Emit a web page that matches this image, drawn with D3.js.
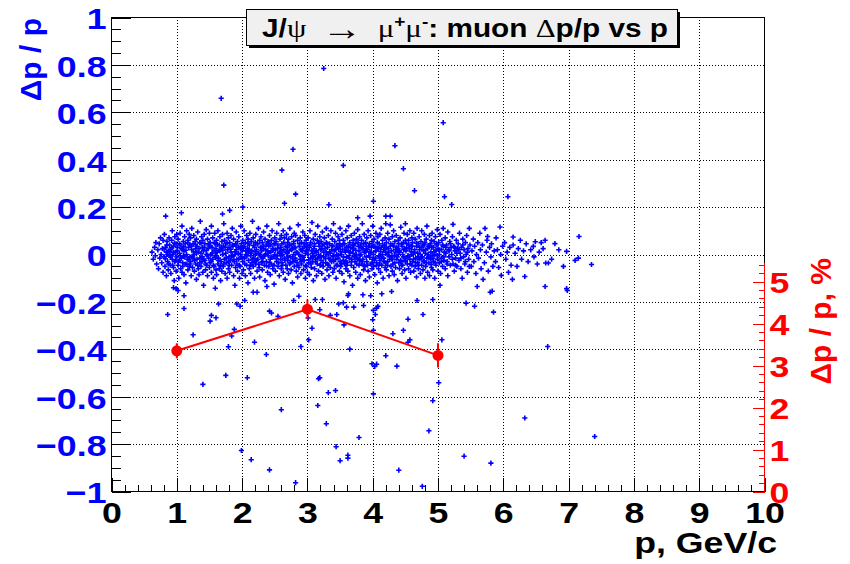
<!DOCTYPE html>
<html><head><meta charset="utf-8">
<script src="https://cdn.jsdelivr.net/npm/d3@7"></script>
<style>
body{margin:0;background:#fff}
svg{display:block}
text{font-family:"Liberation Sans",Arial,sans-serif;font-weight:bold}
</style>
</head><body>
<svg id="c" width="850" height="564"></svg>
<script>
// ---------------- data ----------------
const xTickValues = [0,1,2,3,4,5,6,7,8,9,10];
const yTickValues = [-1,-0.8,-0.6,-0.4,-0.2,0,0.2,0.4,0.6,0.8,1];
const rTickValues = [0,1,2,3,4,5];
const rAxisMax = 5.45;
const titleParts = [["J/","b"],["ψ","g"],["  ","g"],["→","arrow"],["  ","g"],["μ","g"],["+","sup"],["μ","g"],["-","sup"],[": muon ","b"],["Δ","g"],["p/p vs p","b"]];
const xTitle = "p, GeV/c";
const yTitle = "Δp / p";
const rTitle = "Δp / p, %";

// resolution graph (right axis, %)
const resP   = [1, 3, 5];
const resVal = [3.35, 4.34, 3.24];
const resErr = [0.18, 0.23, 0.29];

// scatter outliers [p, dp/p]
const outliers = [
[3.25,0.785],[1.68,0.659],[2.78,0.444],[4.34,0.459],[2.61,0.356],[3.55,0.376],[4.47,0.362],[1.72,0.293],[2.82,0.255],[4.64,0.269],
[2.65,0.216],[3.33,0.21],[4.01,0.225],[2.01,0.2],[1.07,0.176],[0.83,0.162],[1.70,0.171],[1.81,0.186],[3.77,0.155],[3.96,0.162],
[4.20,0.162],[4.27,0.162],[5.08,0.556],[5.10,0.244],[5.21,0.211],[6.07,0.244],[4.20,0.13],[4.50,0.13],
[1.02,-0.152],[1.11,-0.174],[1.11,-0.228],[0.86,-0.253],[1.53,-0.257],[1.51,-0.281],[1.60,-0.267],[1.25,-0.339],[1.64,-0.209],[1.92,-0.209],
[1.97,-0.218],[2.04,-0.194],[1.88,-0.316],[1.84,-0.344],[1.79,-0.389],[1.75,-0.51],[1.40,-0.548],[2.19,-0.37],[2.37,-0.422],[2.08,-0.52],
[2.60,-0.655],[2.17,-0.159],[2.23,-0.159],[2.42,-0.239],[2.45,-0.247],[2.55,-0.261],[2.79,-0.194],[2.87,-0.176],[3.01,-0.268],[3.07,-0.311],
[3.02,-0.36],[2.90,-0.388],[3.12,-0.19],[3.23,-0.19],[3.19,-0.233],[3.35,-0.257],[3.45,-0.253],[3.48,-0.209],[3.55,-0.204],[3.60,-0.222],
[3.56,-0.297],[3.62,-0.173],[3.63,-0.166],[3.71,-0.222],[3.85,-0.17],[3.86,-0.215],[3.97,-0.174],[3.65,-0.399],[3.17,-0.524],[3.19,-0.52],
[3.32,-0.583],[3.43,-0.574],[3.16,-0.637],[3.29,-0.714],[3.79,-0.772],[3.44,-0.811],[3.62,-0.847],[3.62,-0.859],[3.50,-0.87],[1.99,-0.827],
[2.14,-0.866],[2.42,-0.909],[2.82,-0.963],[4.01,-0.236],[4.06,-0.226],[4.08,-0.219],[4.04,-0.253],[4.00,-0.275],[4.01,-0.32],[4.14,-0.166],
[4.29,-0.156],[4.31,-0.334],[4.47,-0.32],[4.54,-0.273],[4.54,-0.37],[4.57,-0.36],[4.20,-0.427],[3.99,-0.461],[4.06,-0.463],[4.03,-0.472],
[4.37,-0.471],[4.01,-0.588],[4.40,-0.91],[4.76,-0.978],[4.68,-0.194],[4.77,-0.253],[4.92,-0.19],[5.01,-0.541],[4.92,-0.617],[4.86,-0.744],
[5.80,-0.159],[5.83,-0.155],[5.43,-0.205],[5.56,-0.218],[5.85,-0.243],[5.06,-0.36],[6.68,-0.388],[6.33,-0.69],[7.40,-0.768],[5.40,-0.851],
[5.81,-0.88],[6.98,-0.152],[0.95,-0.14],[0.99,-0.144],[1.59,-0.142],[2.38,-0.135],[5.03,-0.13]
];

// scatter band [p, dp/p]
const band = [
[0.62,0.01],[0.64,-0.02],[0.66,0.03],[0.67,-0.005],[0.68,0.05],[0.69,-0.04],
[0.71,0.02],[0.72,-0.06],[0.73,0.045],[0.74,-0.015],[0.75,0.07],[0.76,0.0],[0.77,-0.035],[0.78,0.025],[0.79,-0.075],[0.79,0.06],
[0.81,-0.01],[0.81,0.085],[0.82,-0.05],[0.83,0.03],[0.84,-0.09],[0.84,0.01],[0.85,0.055],[0.86,-0.03],[0.87,0.015],[0.87,-0.065],[0.88,0.07],[0.89,-0.005],[0.89,0.04],[0.9,-0.045],
[0.91,0.02],[0.91,-0.08],[0.92,0.06],[0.93,-0.02],[0.93,0.1],[0.94,0.0],[0.95,-0.055],[0.95,0.035],[0.96,-0.11],[0.97,0.075],[0.97,-0.03],[0.98,0.01],[0.99,-0.07],[0.99,0.045],[1.0,-0.01],[1.0,0.085],
[1.01,0.03],[1.02,-0.045],[1.02,0.065],[1.03,-0.1],[1.04,0.005],[1.04,-0.025],[1.05,0.09],[1.06,-0.06],[1.06,0.04],[1.07,-0.015],[1.08,0.12],[1.08,-0.075],[1.09,0.02],[1.09,-0.035],[1.1,0.055],[1.1,-0.005],
[1.11,-0.085],[1.11,0.015],[1.12,0.075],[1.13,-0.04],[1.13,0.045],[1.14,-0.12],[1.15,0.0],[1.15,0.1],[1.16,-0.02],[1.17,0.06],[1.17,-0.065],[1.18,0.03],[1.19,-0.05],[1.19,0.085],[1.2,-0.01],[1.2,0.04],
[1.21,0.07],[1.21,-0.03],[1.22,-0.09],[1.23,0.02],[1.23,0.11],[1.24,-0.055],[1.25,0.045],[1.25,-0.015],[1.26,0.08],[1.27,-0.07],[1.27,0.0],[1.28,0.055],[1.29,-0.04],[1.29,0.025],[1.3,-0.105],[1.3,0.065],
[1.31,-0.02],[1.31,0.035],[1.32,0.095],[1.33,-0.06],[1.33,0.01],[1.34,-0.085],[1.35,0.05],[1.35,-0.035],[1.36,0.14],[1.37,0.005],[1.37,-0.05],[1.38,0.075],[1.39,-0.01],[1.39,0.03],[1.4,-0.075],[1.4,0.06],
[1.41,0.015],[1.41,-0.13],[1.42,0.085],[1.43,-0.025],[1.43,0.045],[1.44,-0.065],[1.45,0.0],[1.45,0.105],[1.46,-0.045],[1.47,0.065],[1.47,-0.09],[1.48,0.025],[1.49,-0.015],[1.49,0.04],[1.5,-0.055],[1.5,0.09],
[1.51,-0.035],[1.51,0.05],[1.52,0.0],[1.53,0.12],[1.53,-0.075],[1.54,0.03],[1.55,-0.02],[1.55,0.07],[1.56,-0.1],[1.57,0.015],[1.57,-0.05],[1.58,0.09],[1.59,-0.005],[1.59,0.045],[1.6,-0.065],[1.6,0.025],
[1.61,0.06],[1.61,-0.085],[1.62,0.01],[1.63,-0.04],[1.63,0.1],[1.64,-0.015],[1.65,0.04],[1.65,-0.06],[1.66,0.075],[1.67,-0.11],[1.67,0.02],[1.68,-0.03],[1.69,0.055],[1.69,-0.07],[1.7,0.0],[1.7,0.085],
[1.71,-0.05],[1.71,0.035],[1.72,0.13],[1.73,-0.02],[1.73,0.06],[1.74,-0.08],[1.75,0.005],[1.75,0.045],[1.76,-0.035],[1.77,0.09],[1.77,-0.1],[1.78,0.02],[1.79,-0.06],[1.79,0.07],[1.8,-0.01],[1.8,0.03],
[1.81,0.05],[1.81,-0.075],[1.82,-0.025],[1.83,0.08],[1.83,0.01],[1.84,-0.045],[1.85,0.11],[1.85,-0.005],[1.86,0.035],[1.87,-0.09],[1.87,0.065],[1.88,-0.03],[1.89,0.0],[1.89,-0.13],[1.9,0.045],[1.9,-0.055],
[1.91,0.02],[1.91,0.095],[1.92,-0.04],[1.93,0.055],[1.93,-0.07],[1.94,0.005],[1.95,-0.02],[1.95,0.075],[1.96,-0.1],[1.97,0.03],[1.97,-0.05],[1.98,0.12],[1.99,-0.01],[1.99,0.045],[2.0,-0.08],[2.0,0.015],
[2.01,0.06],[2.01,-0.03],[2.02,-0.065],[2.03,0.035],[2.03,0.1],[2.04,-0.015],[2.05,0.05],[2.05,-0.09],[2.06,0.0],[2.07,0.08],[2.07,-0.045],[2.08,0.025],[2.09,-0.12],[2.09,0.065],[2.1,-0.025],[2.1,0.01],
[2.11,-0.06],[2.11,0.04],[2.12,0.09],[2.13,-0.005],[2.13,-0.08],[2.14,0.055],[2.15,0.015],[2.15,-0.035],[2.16,0.14],[2.17,-0.05],[2.17,0.07],[2.18,-0.015],[2.19,0.03],[2.19,-0.1],[2.2,0.05],[2.2,0.0],
[2.21,-0.04],[2.21,0.085],[2.22,0.02],[2.23,-0.07],[2.23,0.045],[2.24,-0.02],[2.25,0.11],[2.25,0.005],[2.26,-0.055],[2.27,0.06],[2.27,-0.095],[2.28,0.03],[2.29,-0.01],[2.29,0.075],[2.3,-0.035],[2.3,0.015],
[2.31,0.05],[2.31,-0.065],[2.32,-0.015],[2.33,0.095],[2.33,0.025],[2.34,-0.045],[2.35,0.065],[2.35,-0.11],[2.36,0.0],[2.37,0.04],[2.37,-0.03],[2.38,0.12],[2.39,-0.075],[2.39,0.015],[2.4,0.055],[2.4,-0.005],
[2.41,-0.05],[2.41,0.035],[2.42,0.08],[2.43,-0.02],[2.43,-0.085],[2.44,0.01],[2.45,0.06],[2.45,-0.04],[2.46,0.1],[2.47,-0.06],[2.47,0.025],[2.48,-0.01],[2.49,0.045],[2.49,-0.125],[2.5,0.07],[2.5,0.0],
[2.51,0.02],[2.51,-0.07],[2.52,0.055],[2.53,-0.03],[2.53,0.09],[2.54,-0.005],[2.55,-0.05],[2.55,0.04],[2.56,0.13],[2.57,-0.09],[2.57,0.01],[2.58,0.065],[2.59,-0.02],[2.59,0.03],[2.6,-0.06],[2.6,0.08],
[2.61,-0.035],[2.61,0.045],[2.62,0.0],[2.63,0.1],[2.63,-0.075],[2.64,0.02],[2.65,-0.015],[2.65,0.07],[2.66,-0.105],[2.67,0.035],[2.67,-0.045],[2.68,0.085],[2.69,0.005],[2.69,-0.06],[2.7,0.05],[2.7,-0.025],
[2.71,0.065],[2.71,-0.08],[2.72,0.015],[2.73,-0.04],[2.73,0.11],[2.74,-0.01],[2.75,0.04],[2.75,-0.065],[2.76,0.075],[2.77,-0.12],[2.77,0.025],[2.78,-0.03],[2.79,0.055],[2.79,0.0],[2.8,-0.05],[2.8,0.09],
[2.81,-0.015],[2.81,0.03],[2.82,0.08],[2.83,-0.07],[2.83,0.01],[2.84,-0.035],[2.85,0.06],[2.85,-0.095],[2.86,0.125],[2.87,0.0],[2.87,-0.055],[2.88,0.045],[2.89,-0.02],[2.89,0.07],[2.9,0.02],[2.9,-0.08],
[2.91,0.05],[2.91,-0.04],[2.92,-0.01],[2.93,0.095],[2.93,0.025],[2.94,-0.065],[2.95,0.035],[2.95,-0.025],[2.96,0.08],[2.97,-0.1],[2.97,0.005],[2.98,0.06],[2.99,-0.05],[2.99,0.015],[3.0,-0.075],[3.0,0.04],
[3.01,0.0],[3.01,0.07],[3.02,-0.035],[3.03,0.03],[3.03,-0.085],[3.04,0.1],[3.05,-0.015],[3.05,0.05],[3.06,-0.055],[3.07,0.015],[3.07,0.135],[3.08,-0.03],[3.09,0.065],[3.09,-0.11],[3.1,0.025],[3.1,-0.005],
[3.11,-0.06],[3.11,0.045],[3.12,0.085],[3.13,-0.02],[3.13,0.01],[3.14,-0.09],[3.15,0.06],[3.15,-0.04],[3.16,0.12],[3.17,0.0],[3.17,-0.07],[3.18,0.035],[3.19,-0.01],[3.19,0.075],[3.2,-0.045],[3.2,0.02],
[3.21,0.055],[3.21,-0.025],[3.22,-0.08],[3.23,0.04],[3.23,0.095],[3.24,-0.05],[3.25,0.01],[3.25,-0.01],[3.26,0.07],[3.27,-0.105],[3.27,0.025],[3.28,-0.035],[3.29,0.05],[3.29,0.11],[3.3,-0.065],[3.3,0.0],
[3.31,-0.04],[3.31,0.03],[3.32,0.08],[3.33,-0.015],[3.33,-0.09],[3.34,0.045],[3.35,0.005],[3.35,-0.055],[3.36,0.1],[3.37,0.02],[3.37,-0.03],[3.38,0.065],[3.39,-0.075],[3.39,0.035],[3.4,-0.005],[3.4,0.13],
[3.41,0.015],[3.41,-0.06],[3.42,0.055],[3.43,-0.02],[3.43,0.09],[3.44,-0.1],[3.45,0.04],[3.45,0.0],[3.46,-0.045],[3.47,0.075],[3.47,-0.015],[3.48,0.025],[3.49,-0.07],[3.49,0.06],[3.5,-0.03],[3.5,0.11],
[3.51,-0.05],[3.51,0.035],[3.52,0.0],[3.53,0.085],[3.53,-0.08],[3.54,0.02],[3.55,-0.025],[3.55,0.06],[3.56,-0.115],[3.57,0.045],[3.57,-0.04],[3.58,0.01],[3.59,0.1],[3.59,-0.06],[3.6,0.03],[3.6,-0.01],
[3.61,0.07],[3.61,-0.035],[3.62,-0.07],[3.63,0.015],[3.63,0.12],[3.64,-0.005],[3.65,0.05],[3.65,-0.09],[3.66,0.03],[3.67,-0.045],[3.67,0.08],[3.68,-0.02],[3.69,0.04],[3.69,-0.13],[3.7,0.005],[3.7,0.06],
[3.71,-0.055],[3.71,0.025],[3.72,0.09],[3.73,-0.03],[3.73,0.045],[3.74,-0.075],[3.75,0.0],[3.75,0.065],[3.76,-0.015],[3.77,0.105],[3.77,-0.1],[3.78,0.035],[3.79,-0.045],[3.79,0.015],[3.8,0.075],[3.8,-0.025],
[3.81,0.04],[3.81,-0.085],[3.82,0.0],[3.83,0.06],[3.83,-0.04],[3.84,0.13],[3.85,-0.02],[3.85,0.025],[3.86,-0.065],[3.87,0.085],[3.87,0.01],[3.88,-0.05],[3.89,0.05],[3.89,-0.11],[3.9,-0.01],[3.9,0.035],
[3.91,-0.03],[3.91,0.07],[3.92,0.02],[3.93,-0.07],[3.93,0.1],[3.94,-0.005],[3.95,0.045],[3.95,-0.095],[3.96,0.01],[3.97,-0.04],[3.97,0.08],[3.98,0.03],[3.99,-0.06],[3.99,0.055],[4.0,-0.02],[4.0,0.12],
[4.01,0.0],[4.01,-0.05],[4.02,0.065],[4.03,-0.085],[4.03,0.035],[4.04,-0.015],[4.05,0.09],[4.05,0.015],[4.06,-0.035],[4.07,0.05],[4.07,-0.12],[4.08,0.075],[4.09,-0.06],[4.09,0.025],[4.1,-0.005],[4.1,0.045],
[4.11,0.085],[4.11,-0.025],[4.12,-0.075],[4.13,0.03],[4.13,0.11],[4.14,-0.045],[4.15,0.0],[4.15,0.06],[4.16,-0.1],[4.17,0.02],[4.17,-0.015],[4.18,0.04],[4.19,-0.055],[4.19,0.07],[4.2,0.01],[4.2,-0.035],
[4.21,-0.065],[4.21,0.05],[4.22,0.0],[4.23,0.09],[4.23,-0.03],[4.24,0.025],[4.25,-0.09],[4.25,0.065],[4.26,-0.01],[4.27,0.035],[4.27,0.125],[4.28,-0.05],[4.29,0.015],[4.29,-0.02],[4.3,0.075],[4.3,-0.07],
[4.31,0.04],[4.31,-0.04],[4.32,0.1],[4.33,-0.005],[4.33,-0.085],[4.34,0.055],[4.35,0.02],[4.35,-0.055],[4.36,0.08],[4.37,-0.02],[4.37,0.03],[4.38,-0.11],[4.39,0.06],[4.39,0.0],[4.4,-0.035],[4.4,0.045],
[4.41,-0.06],[4.41,0.01],[4.42,0.07],[4.43,-0.025],[4.43,0.115],[4.44,-0.045],[4.45,0.035],[4.45,-0.08],[4.46,0.0],[4.47,0.05],[4.47,-0.01],[4.48,0.09],[4.49,-0.065],[4.49,0.025],[4.5,-0.03],[4.5,0.06],
[4.51,0.015],[4.51,-0.1],[4.52,0.045],[4.53,-0.04],[4.53,0.085],[4.54,-0.01],[4.55,0.06],[4.55,-0.06],[4.56,0.025],[4.57,-0.02],[4.57,0.1],[4.58,-0.075],[4.59,0.035],[4.59,0.0],[4.6,-0.045],[4.6,0.07],
[4.61,-0.03],[4.61,0.05],[4.62,0.0],[4.63,-0.07],[4.63,0.09],[4.64,0.02],[4.65,-0.05],[4.65,0.065],[4.66,-0.015],[4.67,0.035],[4.67,-0.095],[4.68,0.11],[4.69,0.005],[4.69,-0.035],[4.7,0.045],[4.7,-0.06],
[4.71,0.075],[4.71,-0.02],[4.72,0.03],[4.73,-0.08],[4.73,0.0],[4.74,0.055],[4.75,-0.045],[4.75,0.1],[4.76,-0.01],[4.77,0.04],[4.77,-0.065],[4.78,0.015],[4.79,0.085],[4.79,-0.03],[4.8,-0.1],[4.8,0.05],
[4.81,0.02],[4.81,-0.05],[4.82,0.065],[4.83,-0.015],[4.83,0.12],[4.84,-0.075],[4.85,0.035],[4.85,0.0],[4.86,-0.035],[4.87,0.08],[4.87,-0.09],[4.88,0.045],[4.89,-0.02],[4.89,0.01],[4.9,0.06],[4.9,-0.055],
[4.91,-0.005],[4.91,0.09],[4.92,-0.065],[4.93,0.03],[4.93,-0.03],[4.94,0.055],[4.95,0.0],[4.95,-0.1],[4.96,0.075],[4.97,-0.045],[4.97,0.015],[4.98,0.04],[4.99,-0.02],[4.99,0.105],[5.0,-0.07],[5.0,0.025],
[5.01,0.05],[5.02,-0.035],[5.02,0.0],[5.03,0.085],[5.04,-0.08],[5.05,0.02],[5.05,-0.015],[5.06,0.06],[5.07,-0.05],[5.08,0.035],[5.08,0.11],[5.09,-0.025],[5.1,0.01],
[5.11,-0.06],[5.11,0.07],[5.12,0.005],[5.13,0.04],[5.14,-0.03],[5.15,0.095],[5.15,-0.09],[5.16,0.02],[5.17,-0.01],[5.18,0.055],[5.19,-0.045],[5.2,0.03],
[5.21,0.0],[5.22,0.075],[5.23,-0.04],[5.23,0.127],[5.24,0.035],[5.25,-0.07],[5.26,0.015],[5.27,-0.015],[5.28,0.06],[5.29,-0.05],[5.3,0.025],
[5.31,0.045],[5.32,-0.025],[5.33,0.09],[5.34,0.005],[5.35,-0.06],[5.36,0.03],[5.37,-0.1],[5.38,0.065],[5.39,-0.01],[5.4,0.02],
[5.41,-0.04],[5.42,0.05],[5.43,0.0],[5.44,0.08],[5.45,-0.075],[5.46,0.025],[5.47,-0.02],[5.48,0.11],[5.49,0.04],
[5.51,-0.05],[5.52,0.015],[5.54,0.065],[5.55,-0.03],[5.56,0.035],[5.58,-0.08],[5.59,0.0],[5.6,-0.135],
[5.61,0.05],[5.62,-0.015],[5.64,0.09],[5.65,0.02],[5.66,-0.06],[5.68,0.04],[5.69,-0.105],
[5.71,-0.035],[5.72,0.11],[5.74,0.01],[5.75,0.06],[5.76,0.076],[5.77,-0.07],[5.79,0.03],
[5.81,-0.01],[5.82,0.045],[5.84,-0.05],[5.86,0.015],[5.88,-0.03],[5.89,0.07],
[5.91,0.02],[5.93,-0.055],[5.95,0.116],[5.96,0.0],[5.97,-0.088],[5.99,0.035],
[6.02,0.05],[6.04,-0.02],[6.06,0.01],[6.08,-0.075],[6.1,0.03],
[6.12,-0.045],[6.14,-0.105],[6.15,0.074],[6.15,0.04],[6.18,0.005],
[6.21,-0.05],[6.23,0.025],[6.26,0.06],[6.28,-0.02],
[6.31,0.015],[6.33,-0.093],[6.35,0.045],[6.38,-0.03],
[6.42,0.02],[6.46,0.034],[6.49,0.054],[6.47,-0.01],
[6.52,-0.04],[6.55,0.01],[6.58,0.05],
[6.61,0.025],[6.64,0.06],[6.64,-0.135],[6.65,-0.036],[6.69,-0.036],
[6.74,-0.02],[6.79,0.046],
[6.85,0.02],[6.92,-0.05],[6.97,0.013],[6.97,-0.144],
[7.1,-0.025],[7.15,-0.015],[7.16,0.076],[7.35,-0.042]
];

// scatter dense core [p, dp/p]
const core = [
[0.805,0.022],[0.825,-0.018],[0.845,0.04],[0.86,0.0],[0.875,-0.04],[0.895,0.012],
[0.905,-0.012],[0.92,0.028],[0.935,-0.045],[0.95,0.008],[0.965,0.048],[0.985,-0.025],
[1.005,0.015],[1.025,-0.03],[1.04,0.045],[1.055,-0.005],[1.07,0.025],[1.09,-0.05],
[1.105,0.032],[1.12,-0.01],[1.14,0.018],[1.155,-0.042],[1.17,0.05],[1.185,-0.022],
[1.205,-0.04],[1.22,0.035],[1.235,-0.008],[1.255,0.012],[1.27,-0.025],[1.285,0.042],
[1.305,0.008],[1.32,-0.045],[1.34,0.025],[1.355,-0.015],[1.37,0.048],[1.385,-0.03],
[1.405,-0.02],[1.42,0.03],[1.44,-0.04],[1.455,0.018],[1.47,-0.002],[1.49,0.045],
[1.505,0.035],[1.525,-0.028],[1.54,0.005],[1.56,-0.045],[1.575,0.05],[1.59,-0.012],
[1.605,-0.005],[1.62,0.042],[1.635,-0.025],[1.655,0.015],[1.67,-0.048],[1.685,0.03],
[1.705,0.018],[1.72,-0.04],[1.74,0.03],[1.755,-0.015],[1.77,0.048],[1.79,-0.03],
[1.805,-0.045],[1.825,0.022],[1.84,-0.008],[1.855,0.04],[1.875,-0.022],[1.895,0.012],
[1.905,0.04],[1.92,-0.02],[1.94,0.03],[1.955,-0.045],[1.975,0.0],[1.985,0.025],
[2.005,-0.015],[2.02,0.028],[2.04,-0.04],[2.055,0.015],[2.075,-0.005],[2.09,0.048],
[2.105,0.022],[2.125,-0.045],[2.14,0.005],[2.16,-0.02],[2.175,0.038],[2.195,-0.03],
[2.205,0.012],[2.22,-0.025],[2.24,0.045],[2.255,-0.042],[2.275,0.0],[2.29,0.03],
[2.305,-0.03],[2.325,0.035],[2.34,-0.005],[2.36,0.02],[2.375,-0.048],[2.395,0.048],
[2.405,0.005],[2.42,-0.035],[2.44,0.04],[2.455,-0.012],[2.475,0.018],[2.49,-0.045],
[2.505,0.045],[2.525,-0.018],[2.54,0.025],[2.56,-0.035],[2.575,0.005],[2.595,-0.005],
[2.605,0.015],[2.62,-0.045],[2.64,0.05],[2.655,-0.025],[2.675,0.01],[2.69,0.03],
[2.705,-0.01],[2.725,0.04],[2.74,-0.035],[2.76,0.02],[2.775,-0.018],[2.79,0.045],
[2.805,0.028],[2.82,-0.025],[2.84,0.008],[2.855,-0.045],[2.875,0.035],[2.895,-0.008],
[2.905,-0.03],[2.92,0.015],[2.94,-0.012],[2.955,0.045],[2.97,-0.048],[2.99,0.03],
[3.005,0.02],[3.02,-0.022],[3.04,0.04],[3.055,-0.04],[3.075,0.005],[3.09,-0.01],
[3.105,0.035],[3.125,-0.03],[3.14,0.015],[3.16,-0.015],[3.175,0.048],[3.195,-0.045],
[3.205,-0.005],[3.22,0.025],[3.24,-0.035],[3.255,0.042],[3.275,-0.018],[3.29,0.008],
[3.305,0.045],[3.32,-0.045],[3.34,0.012],[3.355,-0.022],[3.375,0.038],[3.39,-0.008],
[3.405,-0.028],[3.425,0.02],[3.44,-0.045],[3.46,0.03],[3.475,-0.005],[3.495,0.045],
[3.505,0.012],[3.52,-0.038],[3.54,0.04],[3.555,-0.01],[3.575,0.022],[3.59,-0.028],
[3.605,-0.045],[3.625,0.035],[3.64,-0.015],[3.66,0.01],[3.675,-0.03],[3.695,0.025],
[3.705,0.04],[3.72,-0.01],[3.74,0.018],[3.755,-0.04],[3.775,0.05],[3.79,-0.02],
[3.805,-0.005],[3.825,0.028],[3.84,-0.03],[3.86,0.045],[3.875,-0.045],[3.895,0.012],
[3.905,0.022],[3.92,-0.045],[3.94,0.035],[3.955,-0.012],[3.975,0.008],[3.99,-0.035],
[4.005,0.04],[4.025,-0.025],[4.04,0.015],[4.06,-0.045],[4.075,0.028],[4.095,-0.008],
[4.105,-0.04],[4.12,0.012],[4.14,-0.015],[4.155,0.038],[4.175,-0.03],[4.19,0.022],
[4.205,0.03],[4.225,-0.045],[4.24,0.008],[4.26,-0.02],[4.275,0.045],[4.295,-0.005],
[4.305,-0.02],[4.32,0.035],[4.34,-0.035],[4.355,0.01],[4.375,-0.01],[4.39,0.025],
[4.405,0.015],[4.425,-0.03],[4.44,0.045],[4.46,-0.045],[4.475,0.02],[4.495,-0.015],
[4.505,-0.025],[4.52,0.028],[4.54,-0.005],[4.555,0.04],[4.575,-0.04],[4.59,0.012],
[4.605,0.035],[4.625,-0.02],[4.64,0.01],[4.66,-0.035],[4.675,0.048],[4.695,-0.01],
[4.705,-0.045],[4.72,0.02],[4.74,-0.015],[4.755,0.03],[4.775,-0.028],[4.79,0.042],
[4.805,0.005],[4.825,-0.035],[4.84,0.025],[4.86,-0.01],[4.875,0.038],[4.895,-0.042],
[4.905,0.03],[4.92,-0.015],[4.94,0.012],[4.955,-0.035],[4.975,0.045],[4.99,-0.005],
[5.02,0.02],[5.05,-0.03],[5.07,0.04],[5.09,-0.01],[5.12,0.03],[5.14,-0.04],[5.17,0.015],[5.19,0.045],[5.22,-0.02],
[5.25,0.03],[5.27,-0.045],[5.29,0.005],[5.32,0.02],[5.35,-0.015],[5.38,0.04],[5.42,-0.03],[5.45,0.01],[5.48,-0.05]
];

// ---------------- drawing ----------------
const SX = 1.19;            // horizontal stretch of the reference's lettering
const BLUE = "#0000ff", RED = "#ff0000";
const FONT = '"Liberation Sans",Arial,sans-serif';
const svg = d3.select("#c");
const x  = d3.scaleLinear().domain([0,10]).range([111.5,764.5]);
const y  = d3.scaleLinear().domain([-1,1]).range([491.5,17.5]);
const yR = d3.scaleLinear().domain([0,(491.5-17.5)/42]).range([491.5,17.5]);

svg.append("rect").attr("width",850).attr("height",564).attr("fill","#fff");

// grid
const grid = svg.append("g").attr("stroke","#000").attr("stroke-width",1).attr("stroke-dasharray","1,2").attr("shape-rendering","crispEdges");
grid.selectAll(".gx").data(xTickValues.slice(1,-1)).join("line")
  .attr("x1",d=>Math.round(x(d))+0.5).attr("x2",d=>Math.round(x(d))+0.5).attr("y1",y(-1)).attr("y2",y(1));
grid.selectAll(".gy").data(yTickValues.slice(1,-1)).join("line")
  .attr("y1",d=>Math.round(y(d))+0.5).attr("y2",d=>Math.round(y(d))+0.5).attr("x1",x(0)).attr("x2",x(10));

// scatter
const plus = "M-2.6,0H2.6M0,-2.6V2.6";
const sc = svg.append("g").attr("stroke",BLUE).attr("stroke-width",1.6).attr("fill","none");
sc.selectAll("path").data(band.concat(core, outliers)).join("path")
  .attr("d",plus).attr("transform",d=>`translate(${x(d[0]).toFixed(1)},${y(d[1]).toFixed(1)})`);

// frame
svg.append("rect").attr("x",x(0)).attr("y",y(1)).attr("width",x(10)-x(0)).attr("height",y(-1)-y(1))
  .attr("fill","none").attr("stroke","#000").attr("stroke-width",1).attr("shape-rendering","crispEdges");

function styleTicks(g, color){
  g.select(".domain").remove();
  g.selectAll(".tick line").attr("stroke",color).attr("shape-rendering","crispEdges");
}

// left axis
const yMinor = d3.range(-1,1.0001,0.05).map(v=>+v.toFixed(2));
const gyMin = svg.append("g").attr("transform",`translate(${x(0)},0)`)
  .call(d3.axisLeft(y).tickValues(yMinor).tickSize(-9.8).tickFormat(""));
styleTicks(gyMin,"#000");
const gy = svg.append("g").attr("transform",`translate(${x(0)},0)`)
  .call(d3.axisLeft(y).tickValues(yTickValues).tickSize(-19.6).tickPadding(5).tickFormat(d3.format("")));
styleTicks(gy,"#000");
gy.selectAll(".tick text").attr("x",null).attr("dy",null)
  .attr("transform",`translate(-5,1) scale(${SX},1)`).attr("dominant-baseline","central")
  .attr("fill",BLUE).style("font-size","30px").style("font-family",FONT);

// bottom axis
const xMinor = d3.range(0,10.0001,0.2).map(v=>+v.toFixed(1));
const gxMin = svg.append("g").attr("transform",`translate(0,${y(-1)})`)
  .call(d3.axisBottom(x).tickValues(xMinor).tickSize(-7).tickFormat(""));
styleTicks(gxMin,"#000");
const gx = svg.append("g").attr("transform",`translate(0,${y(-1)})`)
  .call(d3.axisBottom(x).tickValues(xTickValues).tickSize(-14).tickFormat(d3.format("")));
styleTicks(gx,"#000");
gx.selectAll(".tick text").attr("y",null).attr("dy",null)
  .attr("transform",`translate(0,31) scale(${SX},1)`)
  .attr("fill","#000").style("font-size","30px").style("font-family",FONT);

// right (red) axis
const rMinor = d3.range(0,rAxisMax,0.2).map(v=>+v.toFixed(1));
const gr = svg.append("g").attr("transform",`translate(${x(10)},0)`);
gr.append("line").attr("x1",0).attr("x2",0).attr("y1",yR(0)).attr("y2",yR(rAxisMax))
  .attr("stroke",RED).attr("stroke-width",1.5).attr("shape-rendering","crispEdges");
const grMin = gr.append("g").call(d3.axisRight(yR).tickValues(rMinor).tickSize(-6).tickFormat(""));
styleTicks(grMin,RED);
const grMaj = gr.append("g").call(d3.axisRight(yR).tickValues(rTickValues).tickSize(-12).tickPadding(5).tickFormat(d3.format("")));
styleTicks(grMaj,RED);
grMaj.selectAll(".tick text").attr("x",null).attr("dy",null)
  .attr("transform",`translate(5,1) scale(${SX},1)`).attr("dominant-baseline","central")
  .attr("fill",RED).style("font-size","30px").style("font-family",FONT);

// resolution graph
const rg = svg.append("g");
rg.append("path").datum(resP.map((p,i)=>[p,resVal[i]]))
  .attr("d",d3.line().x(d=>x(d[0])).y(d=>yR(d[1])))
  .attr("fill","none").attr("stroke",RED).attr("stroke-width",2);
rg.selectAll(".eb").data(resP).join("line")
  .attr("x1",d=>x(d)).attr("x2",d=>x(d))
  .attr("y1",(d,i)=>yR(resVal[i]-resErr[i])).attr("y2",(d,i)=>yR(resVal[i]+resErr[i]))
  .attr("stroke",RED).attr("stroke-width",2);
rg.selectAll("circle").data(resP).join("circle")
  .attr("cx",d=>x(d)).attr("cy",(d,i)=>yR(resVal[i])).attr("r",5.5).attr("fill",RED);

// axis titles
svg.append("text").attr("transform",`translate(777,553) scale(${SX},1)`).attr("text-anchor","end")
  .style("font-size","30px").attr("fill","#000").text(xTitle);
svg.append("text").attr("transform","translate(41,18) rotate(-90)").attr("text-anchor","end")
  .style("font-size","30px").attr("fill",BLUE).text(yTitle);
svg.append("text").attr("transform","translate(831,258) rotate(-90)").attr("text-anchor","end")
  .style("font-size","30px").attr("fill",RED).text(rTitle);

// title box
svg.append("rect").attr("x",249).attr("y",12).attr("width",431).attr("height",36).attr("fill","#000");
svg.append("rect").attr("x",246.5).attr("y",9.5).attr("width",431).attr("height",36)
  .attr("fill","#f0f0f0").attr("stroke","#000").attr("stroke-width",1);
const tt = svg.append("text").attr("transform",`translate(465,37) scale(${SX},1)`).attr("text-anchor","middle")
  .style("font-size","25px").style("white-space","pre").attr("fill","#000");
let shift = 0;
titleParts.forEach(([s,k])=>{
  const t = tt.append("tspan").text(s);
  let target = 0;
  if(k==="g"||k==="arrow") t.style("font-family",'"Liberation Serif","DejaVu Serif",serif').style("font-weight","normal").style("font-size","26px");
  if(k==="arrow"){ t.style("font-size","34px"); target = 3; }
  if(k==="sup"){ t.style("font-size","16px"); target = -10; }
  if(target!==shift){ t.attr("dy",target-shift); shift = target; }
});
</script>
</body></html>
